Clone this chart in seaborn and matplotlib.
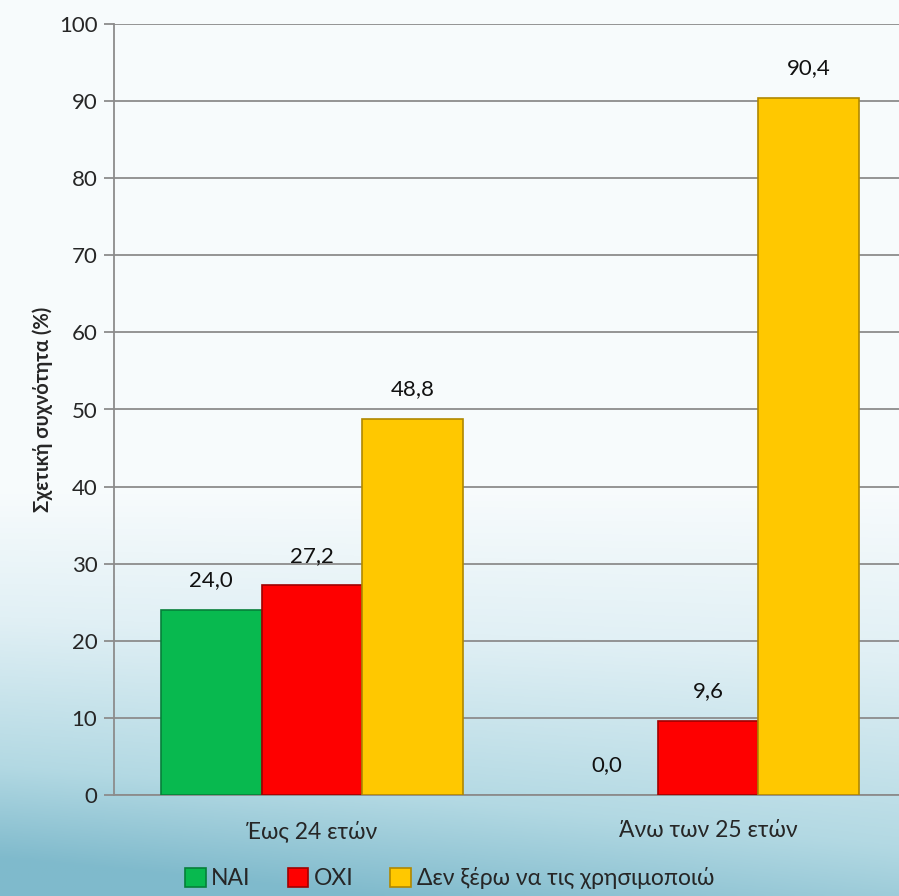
import numpy as np
import pandas as pd
import matplotlib
matplotlib.use("Agg")
import matplotlib.pyplot as plt
import seaborn as sns
from matplotlib.patches import Patch

# --- data ---
categories = ["Έως 24 ετών", "Άνω των 25 ετών"]
answers = ["ΝΑΙ", "ΟΧΙ", "Δεν ξέρω να τις χρησιμοποιώ"]
values_nai = [24.0, 0.0]
values_oxi = [27.2, 9.6]
values_dk = [48.8, 90.4]
colors = ["#08b94f", "#fe0000", "#ffc800"]
edge_colors = ["#06803a", "#a00000", "#b08800"]

rows = []
for ans, vals in zip(answers, [values_nai, values_oxi, values_dk]):
    for cat, v in zip(categories, vals):
        rows.append({"cat": cat, "ans": ans, "val": v})
df = pd.DataFrame(rows)

sns.set_style("white")
plt.rcParams["font.family"] = ["Lato", "Open Sans", "DejaVu Sans"]

fig = plt.figure(figsize=(8.99, 8.96), dpi=100)

# background gradient: near white on top, light blue-teal towards the bottom
bg = fig.add_axes([0, 0, 1, 1], zorder=-10)
h, w = 400, 400
yy, xx = np.mgrid[0:1:h * 1j, 0:1:w * 1j]
base = np.clip((yy - 0.55) / 0.45, 0, 1)
t = np.clip(base + (0.4 - xx) * 0.25 * base, 0, 1)
stops_t = [0.0, 0.35, 0.75, 1.0]
stops_c = np.array([[0.97, 0.985, 0.99],
                    [0.88, 0.94, 0.96],
                    [0.70, 0.85, 0.89],
                    [0.50, 0.73, 0.80]])
img = np.stack([np.interp(t, stops_t, stops_c[:, k]) for k in range(3)], axis=-1)
bg.imshow(img, aspect="auto", extent=[0, 1, 0, 1], origin="upper")
bg.axis("off")

ax = fig.add_axes([114 / 899, 1 - 795 / 896, 792 / 899, 771 / 896])
ax.patch.set_alpha(0)
sns.barplot(data=df, x="cat", y="val", hue="ans", hue_order=answers,
            palette=colors, width=0.765, gap=0, ax=ax, legend=False,
            saturation=1, zorder=3)

for cont, ec in zip(ax.containers, edge_colors):
    for p in cont:
        p.set_edgecolor(ec)
        p.set_linewidth(1.2 if p.get_height() > 0 else 0)
    ax.bar_label(cont, labels=[f"{v:.1f}".replace(".", ",") for v in cont.datavalues],
                 padding=14, fontsize=16, color="#111111")

ax.set_ylim(0, 100)
ax.set_yticks(range(0, 101, 10))
ax.set_xlim(-0.5, 1.5)
ax.yaxis.grid(True, color="#8c8c8c", linewidth=1.3, zorder=0)
ax.set_axisbelow(True)
for s in ["top", "right"]:
    ax.spines[s].set_visible(False)
for s in ["left", "bottom"]:
    ax.spines[s].set_color("#8c8c8c")
    ax.spines[s].set_linewidth(1.3)
ax.tick_params(axis="y", length=7, width=1.3, color="#8c8c8c", labelsize=16, pad=5, left=True)
ax.set_xticks([0, 1])
ax.set_xticklabels(categories)
ax.tick_params(axis="x", which="major", length=0, labelsize=16.5, pad=18)
ax.set_xticks([-0.5, 0.5, 1.5], minor=True)
ax.tick_params(axis="x", which="minor", length=8, width=1.3, color="#8c8c8c", direction="out")
ax.set_xlabel("")
ax.set_ylabel("Σχετική συχνότητα (%)", fontsize=14.5, fontweight="bold", labelpad=4)

handles = [Patch(facecolor=c, edgecolor=e, linewidth=1.2) for c, e in zip(colors, edge_colors)]
fig.legend(handles, answers, loc="center", bbox_to_anchor=(0.5, 1 - 878 / 896), ncol=3,
           frameon=False, fontsize=16.5, handlelength=0.9, handleheight=0.9,
           handletextpad=0.25, columnspacing=1.6)

fig.savefig("out.png", dpi=100)
